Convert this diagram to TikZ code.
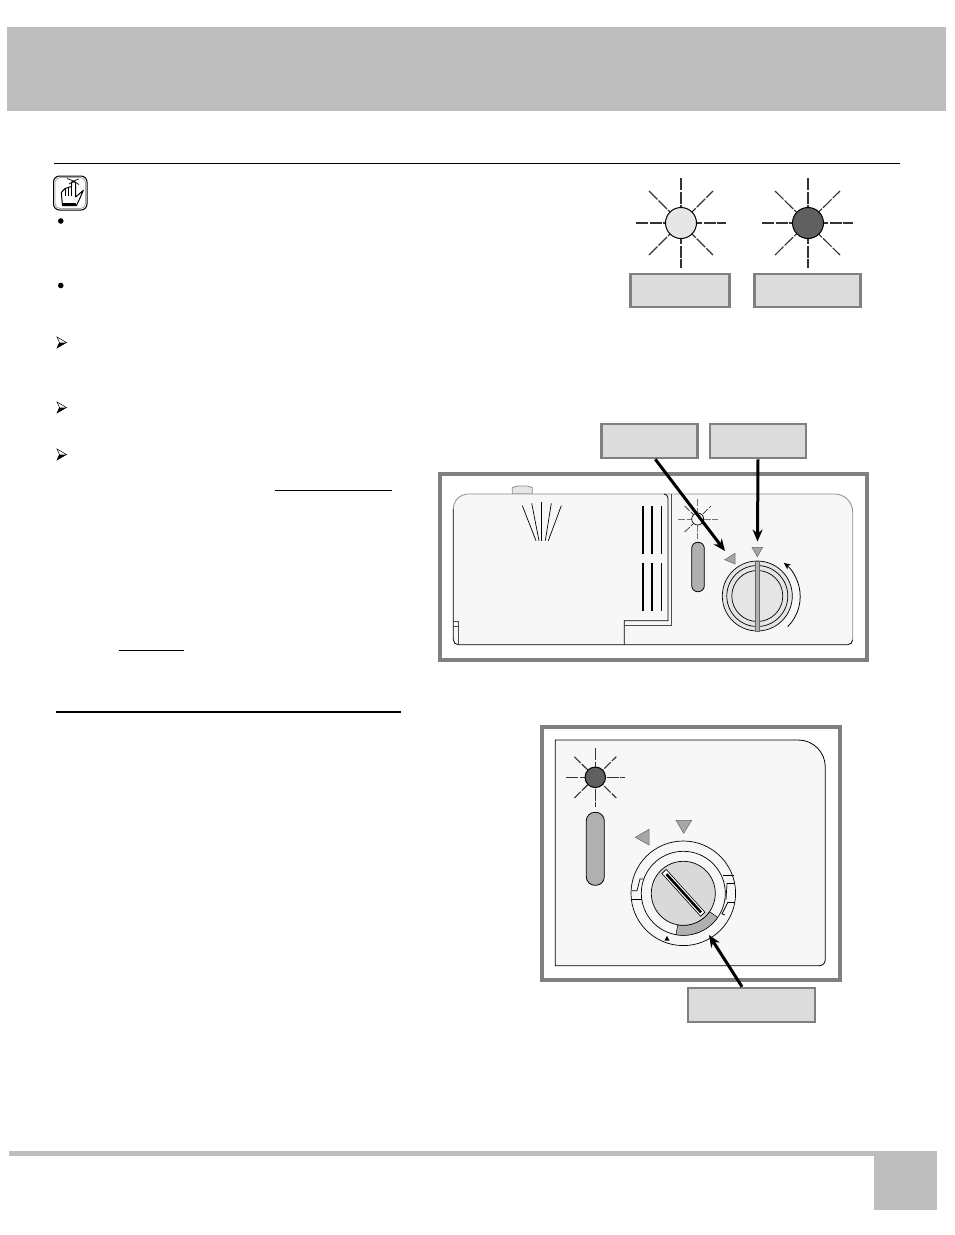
\documentclass[tikz,border=0pt]{standalone}
\usepackage{tikz}
\usepackage{xcolor}
\usetikzlibrary{arrows.meta}

\definecolor{bandgray}{HTML}{BEBEBE}
\definecolor{framegray}{HTML}{808080}
\definecolor{boxgray}{HTML}{DCDCDC}
\definecolor{panelgray}{HTML}{F7F7F7}
\definecolor{slotgray}{HTML}{B0B0B0}
\definecolor{lampdark}{HTML}{606060}
\definecolor{lamplight}{HTML}{E6E6E6}

\tikzset{
	labelbox/.style={draw=framegray, line width=2.5pt, fill=boxgray, inner sep=0pt, rectangle},
	lamp/.style={draw=black, line width=1pt, circle, inner sep=0pt},
	ray/.style={draw=black!80, line width=1.1pt, dash pattern=on 12pt off 1.5pt},
	pointer/.style={draw=black, line width=3pt, -{Stealth[length=12pt,width=10pt]}},
	thinline/.style={draw=black, line width=0.8pt},
	marker/.style={draw=black!60, line width=0.5pt, fill=black!35}
}

\begin{document}
\begin{tikzpicture}[x=1pt,y=1pt]
	 %\draw[help lines] (0,0) grid (954,-1235);
	 \useasboundingbox (0,0) rectangle (954,-1235);

	 % header and footer
	 \fill[bandgray] (7,-27) rectangle (946,-110.5);
	 \draw[black, line width=1pt] (54,-163.5) -- (900,-163.5);
	 \fill[bandgray] (9,-1151) rectangle (873.5,-1156);
	 \fill[bandgray] (873.5,-1151) rectangle (937,-1210);

	 % reminder icon
	 \draw[black, line width=1pt, fill=white, rounded corners=6pt] (53.5,-176) rectangle (87,-210);
	 \draw[black!35, line width=0.8pt, rounded corners=5pt] (55,-177.5) rectangle (85.5,-208.5);
	 \draw[black, line width=1pt, fill=white, line join=round] (62.5,-205.5) -- (61.3,-192.5) -- (65,-188.5) -- (68.3,-187.5)
		-- (71.5,-186.5) -- (71.7,-182) -- (75.7,-182) -- (75.7,-197) -- (83.3,-190.3)
		-- (80,-198) -- (76.5,-205.5) -- cycle;
	 \draw[black, line width=0.7pt] (65,-188.5) -- (65,-196) (68.3,-187.5) -- (68.3,-196) (71.7,-186.5) -- (71.7,-196);
	 \draw[black, line width=2pt] (63,-203.5) -- (76,-203.5);
	 \draw[black, line width=0.7pt] (67,-178.5) -- (73.5,-181) -- (79,-179) (69,-184) -- (73.5,-181) -- (79,-184.5);

	 % bullets and list arrows
	 \fill[black] (60.8,-221) circle (2.8pt);
	 \fill[black] (60.8,-285.5) circle (2.8pt);
	 \draw[black, line width=0.5pt, fill=white] (57,-337) -- (66.5,-342.5) -- (57,-348) -- (59.5,-342.5) -- cycle;
	 \fill[black] (66.5,-342.5) -- (57,-348) -- (59.5,-342.5) -- cycle;
	 \draw[black, line width=0.5pt, fill=white] (57,-402) -- (66.5,-407.5) -- (57,-413) -- (59.5,-407.5) -- cycle;
	 \fill[black] (66.5,-407.5) -- (57,-413) -- (59.5,-407.5) -- cycle;
	 \draw[black, line width=0.5pt, fill=white] (57,-449) -- (66.5,-454.5) -- (57,-460) -- (59.5,-454.5) -- cycle;
	 \fill[black] (66.5,-454.5) -- (57,-460) -- (59.5,-454.5) -- cycle;

	 % underlines
	 \draw[black, line width=1pt] (275,-490) -- (392,-490);
	 \draw[black, line width=1pt] (119,-650) -- (184,-650);
	 \draw[black, line width=2pt] (56,-712) -- (401,-712);

	 % two lamps at the top
	 \draw[ray] (636,-223) -- (726,-223);
	 \draw[ray] (681,-178) -- (681,-268);
	 \draw[ray] (649,-191) -- (713,-255);
	 \draw[ray] (649,-255) -- (713,-191);
	 \node[lamp, fill=lamplight, minimum size=31pt] (lampoff) at (681,-223) {};

	 \draw[ray] (762,-223) -- (853,-223);
	 \draw[ray] (808,-178) -- (808,-268);
	 \draw[ray] (775,-191) -- (840,-255);
	 \draw[ray] (775,-255) -- (840,-191);
	 \node[lamp, fill=lampdark, minimum size=31pt] (lampon) at (808,-223) {};

	 \node[labelbox, minimum width=99pt, minimum height=33pt] (offbox) at (680,-290.5) {};
	 \node[labelbox, minimum width=106pt, minimum height=33pt] (onbox) at (807.5,-290.5) {};

	 % dispenser frame
	 \draw[framegray, line width=4pt] (440.3,-473.7) rectangle (866.7,-659.7);
	 \draw[draw=black!45, line width=0.8pt, fill=boxgray!70] (512.3,-494) -- (512.3,-487.5) -- (518,-486) -- (527,-486) -- (532.3,-487.5) -- (532.3,-494) -- cycle;
	 \fill[panelgray] (453.3,-639.7) -- (453.3,-509) arc (180:90:15pt) -- (834.7,-494) arc (90:0:18pt) -- (852.7,-639.7) arc (0:-90:5pt)
		-- (458.3,-644.7) arc (-90:-180:5pt) -- cycle;
	 \draw[black!45, line width=0.8pt] (453.3,-509) arc (180:90:15pt) -- (834.7,-494) arc (90:0:18pt) -- (852.7,-639.7);
	 \draw[black, line width=0.8pt] (453.3,-509) -- (453.3,-639.7) arc (-180:-90:5pt) -- (847.7,-644.7) arc (-90:0:5pt);

	 % spray mark
	 \draw[thinline, line width=0.7pt] (522.3,-505.7) -- (536,-540.7);
	 \draw[thinline, line width=0.7pt] (531.7,-503.3) -- (539,-540.7);
	 \draw[thinline, line width=0.7pt] (541.3,-502) -- (541.3,-540.7);
	 \draw[thinline, line width=0.7pt] (551.3,-503.3) -- (545.3,-540.7);
	 \draw[thinline, line width=0.7pt] (561.3,-505.7) -- (548.3,-540.7);

	 % level marks
	 \draw[black, line width=2pt] (643,-506) -- (643,-554);
	 \draw[black, line width=2pt] (652,-506) -- (652,-554);
	 \draw[black, line width=1.6pt] (661.5,-506) -- (661.5,-554);
	 \draw[black, line width=2pt] (643,-563.3) -- (643,-611.3);
	 \draw[black, line width=2pt] (652,-563.3) -- (652,-611.3);
	 \draw[black, line width=1.6pt] (661.5,-563.3) -- (661.5,-611.3);

	 % door edge
	 \draw[thinline] (664,-494) arc (90:0:4pt) -- (668,-620.7) -- (624.3,-620.7) -- (624.3,-644.7);
	 \draw[black!70, line width=0.8pt] (671.3,-494) -- (671.3,-625) -- (624.3,-625);
	 \draw[black!70, line width=0.8pt] (453.3,-621) -- (458,-621) -- (458,-644.7);
	 \draw[black!70, line width=0.6pt] (453.3,-626) -- (458,-626);

	 % small lamp and slot
	 \draw[ray, line width=0.7pt, draw=black!55, dash pattern=on 7pt off 1.5pt] (678.3,-519) -- (717.7,-519);
	 \draw[ray, line width=0.7pt, draw=black!55, dash pattern=on 7pt off 1.5pt] (697.7,-499.3) -- (697.7,-538.7);
	 \draw[ray, line width=0.7pt, dash pattern=on 7pt off 1.5pt] (684.7,-506) -- (711,-532);
	 \draw[ray, line width=0.7pt, dash pattern=on 7pt off 1.5pt] (684.7,-532) -- (711,-506);
	 \node[lamp, fill=panelgray, minimum size=12pt, line width=0.7pt] (lampsmall) at (697.7,-519) {};
	 \draw[thinline, fill=slotgray, rounded corners=6pt] (691.7,-542.3) rectangle (704.3,-591.7);

	 % dial, front view
	 \draw[marker] (724.7,-559.7) -- (735,-553.3) -- (735,-564) -- cycle;
	 \draw[marker] (752,-547.3) -- (762.7,-547.3) -- (757.3,-556.7) -- cycle;
	 \node[lamp, fill=black!10, minimum size=70pt, line width=0.7pt] (dialouter) at (757.3,-596) {};
	 \node[lamp, fill=black!10, minimum size=61pt, line width=0.7pt] (dialmiddle) at (757.3,-596) {};
	 \node[lamp, fill=black!10, minimum size=51pt, line width=0.7pt] (dialinner) at (757.3,-596) {};
	 \draw[draw=black!60, line width=0.6pt, fill=slotgray] (755.3,-561) rectangle (759.5,-631);
	 \draw[black, line width=0.8pt, -{Stealth[length=7pt,width=6pt]}] (787.7,-626.7) arc (-45:52:42.7pt);

	 % dial, top view
	 \draw[framegray, line width=4pt] (542,-727) rectangle (840,-979.7);
	 \draw[black, line width=0.8pt, fill=panelgray] (555.3,-740) -- (798.3,-740) arc (90:0:27pt) -- (825.3,-959.7) arc (0:-90:6pt) -- (555.3,-965.7) -- cycle;

	 \draw[ray] (566,-777.3) -- (625,-777.3);
	 \draw[ray] (595.3,-748) -- (595.3,-806.7);
	 \draw[ray, dash pattern=on 9pt off 1.5pt] (574.3,-756.7) -- (616.3,-798);
	 \draw[ray, dash pattern=on 9pt off 1.5pt] (574.3,-798) -- (616.3,-756.7);
	 \node[lamp, fill=lampdark, minimum size=20.5pt] (lampbig) at (595.3,-777.3) {};
	 \draw[thinline, fill=slotgray, rounded corners=8.5pt] (586.3,-812.3) rectangle (604.3,-885.3);

	 \draw[marker] (635.3,-837.3) -- (649,-829.3) -- (649,-845) -- cycle;
	 \draw[marker] (676,-820.3) -- (691.7,-820.3) -- (683.7,-833.3) -- cycle;

	 \node[lamp, fill=panelgray, minimum size=104.6pt, line width=0.7pt] (capouter) at (683.3,-893.3) {};
	 \node[lamp, fill=panelgray, minimum size=84pt, line width=0.7pt] (capmiddle) at (683.3,-893.3) {};
	 \draw[black, line width=0.5pt, fill=slotgray] (683.3,-893.3) ++(-100:32pt) arc (-100:-35:32pt) -- ++(-35:10pt) arc (-35:-100:42pt) -- cycle;
	 \node[lamp, fill=black!15, minimum size=64pt, line width=0.7pt] (capinner) at (683.3,-893.3) {};

	 % tabs of the cap
	 \draw[thinline, line width=0.7pt] (631.5,-890.7) -- (637,-890.7) -- (640,-879) -- (643,-879);
	 \draw[thinline, line width=0.7pt] (631.5,-899) -- (642,-899);
	 \draw[thinline, line width=0.7pt] (723,-875) -- (734,-875);
	 \draw[thinline, line width=0.7pt] (727,-883.3) -- (735,-883.3);
	 \draw[thinline, line width=0.7pt] (727,-883.3) -- (726,-900);
	 \draw[thinline, line width=0.7pt] (728,-902) -- (735,-902);
	 \draw[thinline, line width=0.7pt] (728,-902) -- (722,-914) -- (725,-915);

	 % slot of the cap
	 \draw[black, line width=6.5pt] (663.8,-871.2) -- (703,-914.5);
	 \draw[white, line width=5pt] (664.4,-871.9) -- (702.4,-913.8);
	 \draw[black, line width=2.6pt] (666.5,-874.2) -- (701,-912.3);

	 \fill[black] (664.5,-940.5) -- (667,-936) -- (669.5,-940.5) -- cycle;

	 \node[labelbox, minimum width=127pt, minimum height=34pt] (capbox) at (751.5,-1005) {};

	 % boxes over the dispenser
	 \node[labelbox, minimum width=96pt, minimum height=34pt] (leftbox) at (649.3,-441) {};
	 \node[labelbox, minimum width=96pt, minimum height=34pt] (rightbox) at (758,-441) {};

	 \coordinate (leftmark) at (725,-551);
	 \coordinate (rightmark) at (757.5,-541.5);
	 \coordinate (capmark) at (709,-935);

	 \draw[pointer] ([xshift=6pt]leftbox.south) -- (leftmark);
	 \draw[pointer] (rightbox.south) -- (rightmark);
	 \draw[pointer] ([xshift=-9.5pt]capbox.north) -- (capmark);
\end{tikzpicture}
\end{document}
